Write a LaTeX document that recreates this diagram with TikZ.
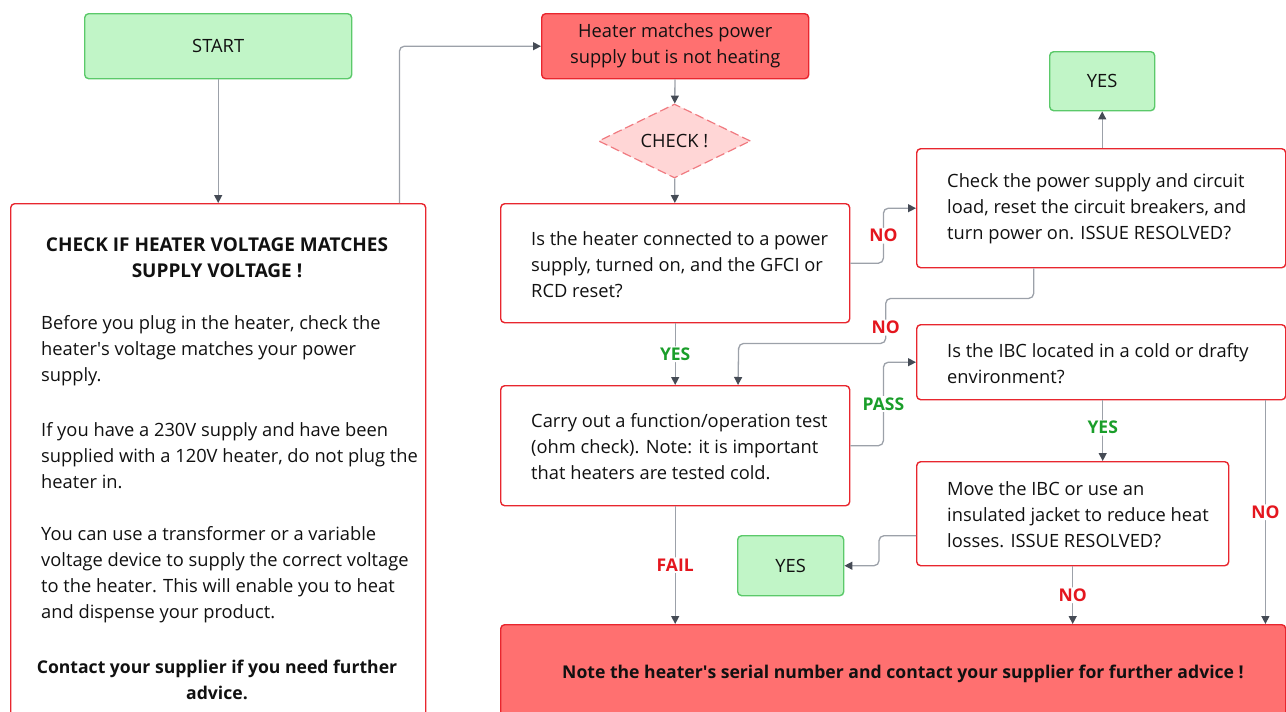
\documentclass[tikz,border=0pt]{standalone}
\usepackage{fontspec}
\setmainfont{Open Sans}
\usetikzlibrary{arrows.meta,shapes.geometric}
\definecolor{gfill}{HTML}{C1F5C7}
\definecolor{gdraw}{HTML}{5BC96A}
\definecolor{rfill}{HTML}{FF7070}
\definecolor{rdraw}{HTML}{E8262E}
\definecolor{pfill}{HTML}{FFD6D6}
\definecolor{pdraw}{HTML}{F07A80}
\definecolor{lnc}{HTML}{9CA1A9}
\definecolor{tipc}{HTML}{454B55}
\definecolor{lred}{HTML}{E4161E}
\definecolor{lgreen}{HTML}{1A9E2A}
\definecolor{txt}{HTML}{111111}
\tikzset{
  base/.style={line width=1.4pt, rounded corners=4pt, inner sep=0pt, anchor=north west, text=txt,
    font=\fontsize{18.3}{26}\selectfont},
  wbox/.style={base, draw=rdraw, fill=white},
  gbox/.style={base, draw=gdraw, fill=gfill},
  rbox/.style={base, draw=rdraw, fill=rfill},
  body/.style={text=txt, font=\fontsize{18.3}{26}\selectfont, align=left, inner sep=0pt},
  bbody/.style={text=txt, font=\bfseries\fontsize{18.5}{26}\selectfont, align=center, inner sep=0pt},
  conn/.style={draw=lnc, line width=1.3pt, rounded corners=5pt,
    -{Triangle[length=8pt,width=8pt,color=tipc]}},
  lbl/.style={font=\bfseries\fontsize{17.5}{20}\selectfont, fill=white, inner sep=1.5pt},
  nol/.style={lbl, text=lred},
  yesl/.style={lbl, text=lgreen},
}
\begin{document}
\begin{tikzpicture}[x=1pt,y=-1pt]
\useasboundingbox (0,0) rectangle (1286,712);
% nodes
\node[gbox, minimum width=267pt, minimum height=65pt] (start) at (84,13) {START};
\node[wbox, minimum width=415pt, minimum height=521pt] (left) at (10,203) {};
\node[bbody, font=\bfseries\fontsize{19}{26}\selectfont] (ltitle) at (217,258) {CHECK IF HEATER VOLTAGE MATCHES\\SUPPLY VOLTAGE !};
\node[body, anchor=west] (lp1) at (41,351) {Before you plug in the heater, check the\\heater\textquotesingle s voltage matches your power\\supply.};
\node[body, anchor=west] (lp2) at (41,456) {If you have a 230V supply and have been\\supplied with a 120V heater, do not plug the\\heater in.};
\node[body, anchor=west] (lp3) at (41,575) {You can use a transformer or a variable\\voltage device to supply the correct voltage\\to the heater. This will enable you to heat\\and dispense your product.};
\node[bbody, font=\bfseries\fontsize{17.6}{26}\selectfont] (lp4) at (217,680) {Contact your supplier if you need further\\advice.};

\node[rbox, minimum width=267pt, minimum height=65pt, align=center] (heater) at (541,13) {Heater matches power\\supply but is not heating};
\node[diamond, draw=pdraw, fill=pfill, line width=1.2pt, dash pattern=on 9pt off 4pt,
  minimum width=152pt, minimum height=74pt, aspect=2, inner sep=0pt, text=txt,
  font=\fontsize{18.3}{20}\selectfont] (check) at (674.5,141) {CHECK !};

\node[wbox, minimum width=349pt, minimum height=119pt] (q1) at (500,203) {};
\node[body, anchor=west, xshift=31pt, yshift=-1pt] (q1t) at (q1.west) {Is the heater connected to a power\\supply, turned on, and the GFCI or\\RCD reset?};

\node[wbox, minimum width=349pt, minimum height=120pt] (carry) at (500,385) {};
\node[body, anchor=west, xshift=31pt, yshift=-1pt] (carryt) at (carry.west) {Carry out a function/operation test\\(ohm check). Note: it is important\\that heaters are tested cold.};

\node[wbox, minimum width=369pt, minimum height=119pt] (power) at (916,148) {};
\node[body, anchor=west, xshift=31pt, yshift=-1pt] (powert) at (power.west) {Check the power supply and circuit\\load, reset the circuit breakers, and\\turn power on. ISSUE RESOLVED?};

\node[gbox, minimum width=105pt, minimum height=59pt] (yes1) at (1049,51) {YES};

\node[wbox, minimum width=369pt, minimum height=75pt] (ibc) at (916,324) {};
\node[body, anchor=west, xshift=31pt, yshift=-1pt] (ibct) at (ibc.west) {Is the IBC located in a cold or drafty\\environment?};

\node[wbox, minimum width=312pt, minimum height=104pt] (move) at (916,461) {};
\node[body, anchor=west, xshift=31pt, yshift=-1pt] (movet) at (move.west) {Move the IBC or use an\\insulated jacket to reduce heat\\losses. ISSUE RESOLVED?};

\node[gbox, minimum width=106pt, minimum height=60pt] (yes2) at (737,535) {YES};

\node[rbox, minimum width=785pt, minimum height=100pt] (bottom) at (500,624) {};
\node[bbody, font=\bfseries\fontsize{17.6}{26}\selectfont] (bottomt) at (903,674) {Note the heater\textquotesingle s serial number and contact your supplier for further advice !};

% connectors
\draw[conn] (start) -- (left);
\draw[conn] ([xshift=-27pt]left.north east) |- (heater.west);
\draw[conn] (heater) -- (check);
\draw[conn] (check) -- (q1);
\draw[conn] (q1.east) -- ++(33,0) |- node[nol, pos=0.25] (no1) {NO} (power.west);
\draw[conn] (power.north -| yes1.south) -- (yes1.south);
\draw[conn] ([xshift=-67.5pt]power.south) -- ++(0,30) -- ++(-148,0) -- ++(0,45)
  node[nol, pos=0.65] (no2) {NO} -- ++(-147,0) -- (carry.north -| 738,0);
\draw[conn] (q1) -- node[yesl] (yes3) {YES} (carry);
\draw[conn] (carry.east) -- ++(33,0) |- node[yesl, pos=0.25] (pass) {PASS} (ibc.west);
\draw[conn] ([xshift=1.5pt]ibc.south) -- node[yesl, pos=0.45] (yes4) {YES} ([xshift=1.5pt]ibc.south |- move.north);
\draw[conn] ([yshift=-22pt]move.west) -- ++(-37,0) |- (yes2.east);
\draw[conn] (move.south) -- node[nol] (no3) {NO} (move.south |- bottom.north);
\draw[conn] ([xshift=-21pt]ibc.south east) -- node[nol, pos=0.5] (no4) {NO} ([xshift=-21pt]ibc.south east |- bottom.north);
\draw[conn] (carry.south) -- node[nol] (fail) {FAIL} (carry.south |- bottom.north);
\end{tikzpicture}
\end{document}
